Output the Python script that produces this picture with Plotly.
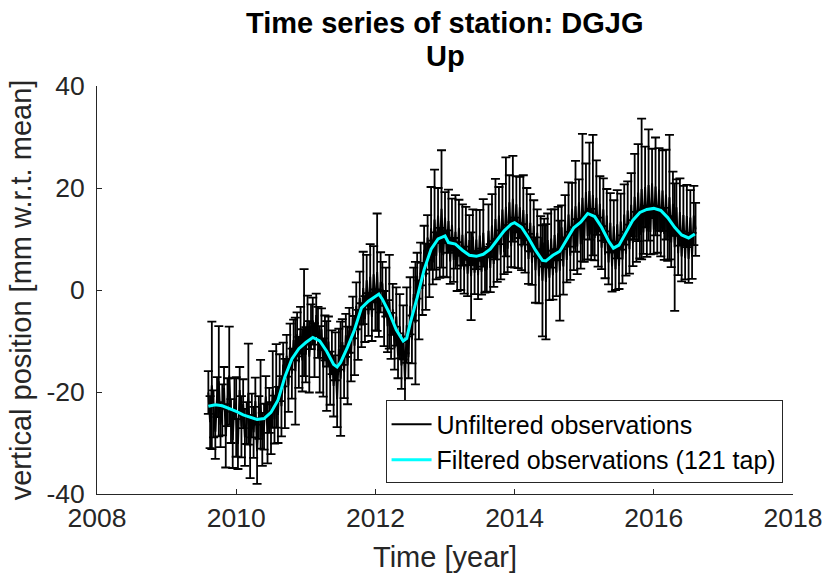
import numpy as np
import plotly.graph_objects as go

# ---------------- data ----------------
obs_start = 2009.6
obs_step = 0.025
obs_up = [
    -20.1, -25.9, -18.7, -24.3, -27.8, -21.0, -17.9, -26.4, -23.5, -19.2, -28.6, -22.0, -16.8, -25.7, -29.4, -21.3, -24.9, -30.2, -19.6, -26.8,
    -22.3, -28.9, -26.1, -20.4, -30.7, -24.6, -27.9, -21.8, -31.6, -25.0, -22.4, -29.3, -26.8, -20.9, -28.2, -23.6, -27.1, -19.5, -25.4, -18.8,
    -24.5, -17.2, -22.8, -14.6, -20.3, -12.9, -18.7, -11.1, -16.4, -9.8, -15.9, -8.7, -14.2, -7.9, -13.8, -6.4, -12.7, -5.9, -13.1, -7.2,
    -6.1, -11.8, -4.9, -8.3, -13.6, -7.7, -15.2, -9.4, -14.9, -10.1, -17.3, -12.2, -18.8, -13.0, -21.4, -11.6, -17.4, -10.2, -16.1, -8.9,
    -14.8, -7.9, -12.6, -5.4, -10.9, -3.1, -8.8, -1.6, -6.9, 0.4, -5.7, 1.9, -4.8, 2.6, -5.3, 3.1, -3.9, 3.5, -4.6, 1.5,
    1.2, -5.6, -0.4, -7.1, -2.3, -9.0, -3.8, -11.4, -5.2, -12.9, -7.1, -14.8, -8.3, -17.8, -6.9, -13.2, -3.1, -9.7, -0.8, -6.5,
    2.8, -3.9, 5.1, 0.2, 7.9, 2.6, 10.3, 3.8, 12.1, 5.4, 13.8, 6.7, 14.6, 7.3, 15.9, 6.8, 14.2, 7.1, 13.5, 5.6,
    12.8, 5.9, 11.4, 4.6, 12.2, 4.1, 10.8, 3.9, 11.1, 3.2, 9.8, 2.7, 10.5, 3.4, 9.9, 2.9, 10.7, 3.6, 11.2, 3.8,
    4.1, 11.6, 4.3, 12.7, 5.1, 13.9, 5.8, 14.6, 6.9, 15.8, 7.4, 16.3, 8.1, 17.2, 8.6, 17.9, 9.3, 16.8, 8.7, 16.2,
    8.4, 15.7, 7.6, 14.9, 6.1, 13.2, 5.3, 12.6, 3.9, 11.2, 2.7, 10.4, 1.8, 9.3, 1.6, 9.8, 2.4, 10.1, 2.9, 10.8,
    3.4, 11.1, 3.8, 12.3, 4.6, 13.7, 5.9, 14.8, 6.7, 15.9, 8.1, 16.4, 8.5, 17.2, 9.0, 18.1, 9.8, 19.2, 10.6, 19.4,
    10.9, 18.6, 10.2, 18.1, 9.4, 16.9, 8.3, 15.8, 6.9, 14.6, 5.4, 13.2, 4.6, 12.5, 4.1, 12.9, 4.7, 13.4, 6.0, 14.8,
    7.1, 15.6, 8.0, 16.7, 9.2, 18.3, 10.4, 19.1, 10.8, 19.8, 11.3, 20.2, 11.5, 20.6, 11.4, 20.9, 11.8, 20.3, 11.6, 19.7,
    11.2, 19.5, 11.0, 18.7, 10.1, 18.2, 9.3, 16.9, 8.4, 16.2, 7.2, 15.3, 6.6, 14.7, 6.3, 14.5, 6.1, 14.2, 6.7, 14.6,
    11.9,
]
obs_err = [
    4.2, 5.1, 12.5, 4.6, 5.3, 3.9, 10.8, 4.4, 5.0, 4.1, 6.2, 4.7, 9.6, 4.3, 5.5, 4.0, 7.8, 4.9, 4.5, 6.0,
    4.8, 5.6, 4.1, 9.9, 6.2, 4.3, 5.0, 4.6, 6.4, 4.2, 8.7, 5.2, 4.5, 4.0, 5.8, 4.4, 5.1, 7.5, 4.7, 8.2,
    5.5, 4.6, 5.9, 4.3, 6.8, 4.1, 5.2, 4.5, 4.9, 4.0, 10.5, 4.3, 5.0, 4.6, 6.1, 10.5, 5.4, 4.8, 7.0, 4.4,
    4.6, 5.3, 4.2, 5.0, 6.5, 4.1, 5.7, 4.4, 8.8, 4.9, 5.2, 4.3, 6.0, 4.7, 5.5, 4.0, 11.2, 4.5, 5.1, 4.2,
    7.6, 4.4, 5.3, 4.1, 5.8, 4.6, 4.9, 5.2, 4.3, 7.1, 4.5, 5.0, 4.2, 6.4, 4.7, 5.5, 4.0, 11.5, 4.6, 5.9,
    4.3, 5.4, 4.8, 5.1, 9.2, 4.5, 5.0, 4.2, 5.7, 4.4, 6.3, 4.6, 5.3, 5.4, 7.4, 4.1, 5.6, 4.7, 5.2, 12.0,
    4.5, 5.8, 4.2, 5.1, 4.7, 6.5, 4.4, 5.2, 8.1, 4.3, 9.8, 4.6, 5.4, 4.9, 11.5, 4.2, 5.0, 4.6, 6.2, 4.4,
    5.1, 4.3, 7.2, 4.8, 5.5, 4.1, 6.0, 4.6, 5.2, 4.4, 4.9, 8.6, 5.3, 4.2, 5.8, 4.7, 5.0, 4.5, 6.6, 4.3,
    4.4, 5.2, 4.7, 6.1, 4.5, 7.9, 4.2, 5.6, 4.8, 5.0, 4.3, 9.7, 4.6, 5.3, 4.1, 8.4, 4.9, 5.5, 4.4, 6.0,
    4.5, 6.8, 4.2, 5.1, 4.9, 5.6, 4.3, 5.0, 6.4, 4.6, 5.3, 4.1, 10.9, 4.7, 11.3, 5.2, 4.4, 5.7, 4.8, 5.0,
    4.6, 5.2, 9.8, 4.3, 5.5, 4.9, 4.4, 6.3, 4.7, 5.1, 4.2, 8.9, 5.4, 4.5, 4.8, 12.5, 4.3, 5.6, 4.6, 9.5,
    5.0, 11.8, 4.4, 7.3, 4.8, 5.4, 4.2, 6.1, 4.6, 5.2, 4.3, 5.8, 4.9, 5.1, 4.1, 6.7, 4.5, 5.5, 4.7, 5.9,
    4.3, 5.7, 4.8, 6.2, 4.5, 8.4, 4.9, 9.5, 4.6, 13.8, 4.2, 7.9, 5.0, 10.9, 4.4, 6.8, 4.7, 9.6, 4.3, 8.1,
    4.6, 7.9, 5.1, 8.8, 4.4, 12.2, 4.8, 6.3, 12.5, 5.5, 4.3, 6.6, 4.9, 5.7, 4.2, 6.1, 4.7, 5.4, 4.5, 5.8,
    5.2,
]

filt_year = [
    2009.60, 2009.70, 2009.80, 2009.90, 2010.00, 2010.10, 2010.20, 2010.30, 2010.40, 2010.50,
    2010.60, 2010.70, 2010.80, 2010.90, 2011.00, 2011.10, 2011.20, 2011.30, 2011.40, 2011.45,
    2011.50, 2011.60, 2011.70, 2011.80, 2011.90, 2012.00, 2012.05, 2012.10, 2012.20, 2012.30,
    2012.40, 2012.45, 2012.50, 2012.60, 2012.70, 2012.80, 2012.90, 2013.00, 2013.05, 2013.15,
    2013.25, 2013.35, 2013.45, 2013.55, 2013.65, 2013.75, 2013.85, 2013.95, 2014.00, 2014.10,
    2014.20, 2014.30, 2014.40, 2014.45, 2014.55, 2014.65, 2014.75, 2014.85, 2014.95, 2015.05,
    2015.15, 2015.25, 2015.35, 2015.42, 2015.50, 2015.60, 2015.70, 2015.80, 2015.90, 2016.00,
    2016.10, 2016.20, 2016.30, 2016.40, 2016.50, 2016.59,
]
filt_up = [
    -22.8, -22.5, -22.7, -23.2, -23.8, -24.5, -25.0, -25.4, -25.2, -24.0,
    -21.6, -17.0, -13.5, -11.5, -10.3, -9.3, -10.0, -12.0, -14.6, -15.1,
    -14.2, -11.2, -7.8, -3.5, -2.2, -1.2, -0.8, -1.8, -4.5, -7.8,
    -10.0, -9.5, -6.5, -1.5, 4.0, 8.0, 10.0, 10.6, 9.3, 9.0,
    7.8, 6.8, 6.6, 7.0, 8.0, 9.8, 11.6, 12.9, 13.2, 12.3,
    10.2, 7.8, 5.8, 5.7, 6.8, 7.6, 10.0, 12.2, 13.3, 15.0,
    14.4, 12.3, 9.6, 8.2, 8.8, 11.3, 13.7, 15.2, 15.8, 16.0,
    15.6, 14.2, 12.3, 10.8, 10.2, 11.0,
]

title_lines = ["Time series of station: DGJG", "Up"]
x_ticks = [2008, 2010, 2012, 2014, 2016, 2018]
x_ticktext = ["2008", "2010", "2012", "2014", "2016", "2018"]
y_ticks = [-40, -20, 0, 20, 40]
y_ticktext = ["-40", "-20", "0", "20", "40"]

obs_year = obs_start + obs_step * np.arange(len(obs_up))

FONT = "Liberation Sans, Arial, Helvetica, sans-serif"
AX = "#262626"

fig = go.Figure()
fig.add_trace(go.Scatter(
    x=obs_year, y=obs_up, mode="lines",
    name="Unfiltered observations",
    line=dict(color="black", width=2),
    error_y=dict(type="data", array=obs_err, visible=True,
                 color="black", thickness=1.8, width=4.5),
))
fig.add_trace(go.Scatter(
    x=filt_year, y=filt_up, mode="lines",
    name="Filtered observations (121 tap)",
    line=dict(color="#00FFFF", width=3),
))

fig.update_layout(
    width=826, height=576,
    margin=dict(l=97, r=33, t=86, b=82, pad=0),
    paper_bgcolor="white", plot_bgcolor="white",
    font=dict(family=FONT, color=AX),
    showlegend=True,
    legend=dict(
        x=0.985, y=0.026, xanchor="right", yanchor="bottom",
        bgcolor="white", bordercolor=AX, borderwidth=1,
        font=dict(size=25, color="black", family=FONT),
        tracegroupgap=0, itemwidth=40,
    ),
    annotations=[
        dict(text="<b>%s</b>" % title_lines[0], xref="paper", yref="paper",
             x=0.5, y=1.1544, xanchor="center", yanchor="middle", showarrow=False,
             font=dict(size=29, color="black", family=FONT)),
        dict(text="<b>%s</b>" % title_lines[1], xref="paper", yref="paper",
             x=0.5, y=1.0735, xanchor="center", yanchor="middle", showarrow=False,
             font=dict(size=29, color="black", family=FONT)),
    ],
)
fig.update_xaxes(
    range=[2008, 2018], tickvals=x_ticks, ticktext=x_ticktext,
    ticks="inside", ticklen=5, tickcolor=AX, tickwidth=1,
    showline=True, linecolor=AX, linewidth=1, mirror=False,
    showgrid=False, zeroline=False,
    tickfont=dict(size=26.5, color=AX, family=FONT),
    title=dict(text="Time [year]", font=dict(size=29, color=AX, family=FONT), standoff=14),
    automargin=False,
)
fig.update_yaxes(
    range=[-40, 40], tickvals=y_ticks, ticktext=y_ticktext,
    ticks="inside", ticklen=5, tickcolor=AX, tickwidth=1,
    showline=True, linecolor=AX, linewidth=1, mirror=False,
    showgrid=False, zeroline=False,
    tickfont=dict(size=26.5, color=AX, family=FONT),
    ticklabelstandoff=6,
    title=dict(text="vertical position [mm w.r.t. mean]", font=dict(size=29, color=AX, family=FONT), standoff=6),
    automargin=False,
)

fig.write_html("out.html")
